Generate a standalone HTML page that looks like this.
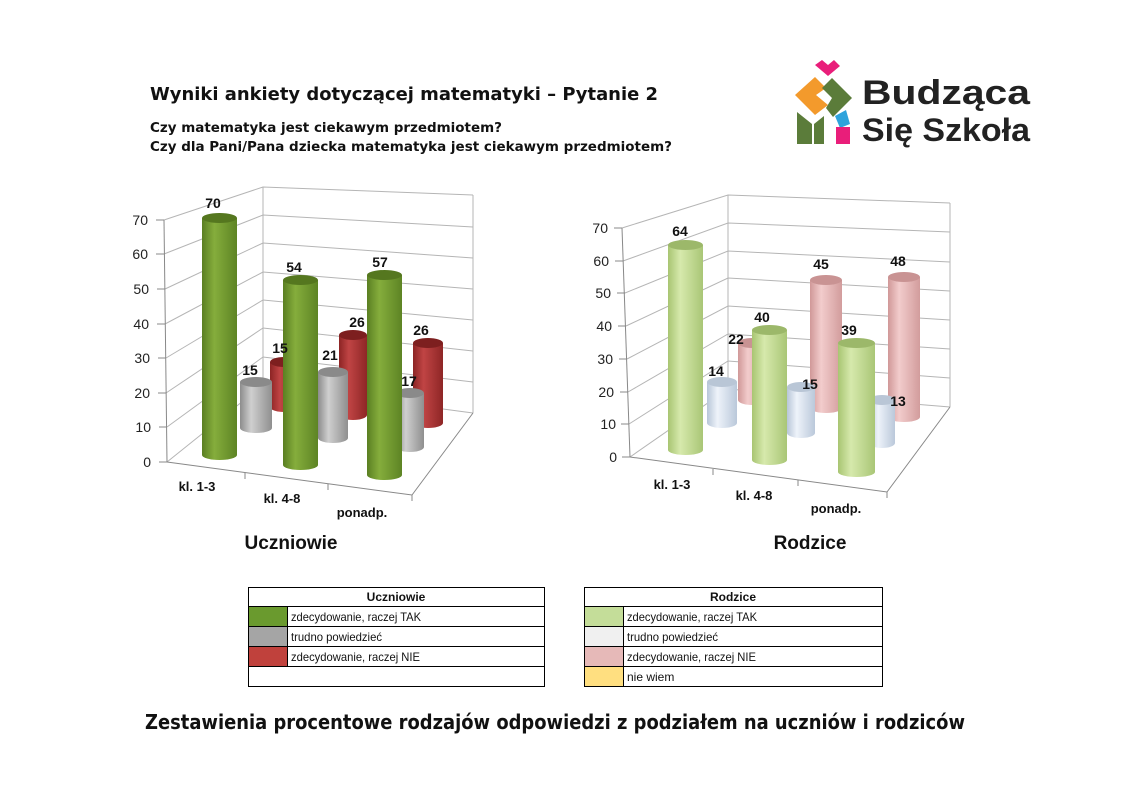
<!DOCTYPE html>
<html><head><meta charset="utf-8"><style>
body{margin:0;background:#fff;width:1140px;height:806px;overflow:hidden}
svg{display:block}
</style></head><body>
<svg width="1140" height="806" xmlns="http://www.w3.org/2000/svg" font-family="Liberation Sans, sans-serif">
<defs>
<linearGradient id="gG" x1="0" x2="1"><stop offset="0" stop-color="#5a7f22"/><stop offset="0.35" stop-color="#85ad3c"/><stop offset="1" stop-color="#5d8424"/></linearGradient>
<linearGradient id="gY" x1="0" x2="1"><stop offset="0" stop-color="#8c8c8c"/><stop offset="0.35" stop-color="#cfcfcf"/><stop offset="1" stop-color="#8f8f8f"/></linearGradient>
<linearGradient id="gR" x1="0" x2="1"><stop offset="0" stop-color="#8c2424"/><stop offset="0.35" stop-color="#c04444"/><stop offset="1" stop-color="#8e2626"/></linearGradient>
<linearGradient id="gL" x1="0" x2="1"><stop offset="0" stop-color="#a8c572"/><stop offset="0.35" stop-color="#d6e9ac"/><stop offset="1" stop-color="#a9c676"/></linearGradient>
<linearGradient id="gB" x1="0" x2="1"><stop offset="0" stop-color="#b8c6d8"/><stop offset="0.35" stop-color="#eef3fa"/><stop offset="1" stop-color="#bac8da"/></linearGradient>
<linearGradient id="gP" x1="0" x2="1"><stop offset="0" stop-color="#d09898"/><stop offset="0.35" stop-color="#f2cccc"/><stop offset="1" stop-color="#d29c9c"/></linearGradient>
</defs>

<!-- Header -->
<g font-family="DejaVu Sans, sans-serif" font-weight="bold" fill="#111">
<text x="150" y="100" font-size="18" textLength="508" lengthAdjust="spacingAndGlyphs">Wyniki ankiety dotyczącej matematyki – Pytanie 2</text>
<text x="150" y="132" font-size="13" textLength="352" lengthAdjust="spacingAndGlyphs">Czy matematyka jest ciekawym przedmiotem?</text>
<text x="150" y="151" font-size="13" textLength="522" lengthAdjust="spacingAndGlyphs">Czy dla Pani/Pana dziecka matematyka jest ciekawym przedmiotem?</text>
</g>

<!-- Logo -->
<polygon points="815,65 822,60 828,65 834,60 840,66 828,76" fill="#e91e7a"/>
<polygon points="795,95 815,77 826,88 816,95 828,105 815,115" fill="#f39a2c"/>
<polygon points="832,78 852,98 833,117 826,108 832,98 822,88" fill="#5b7c3a"/>
<polygon points="797,112 812,124 812,144 797,144" fill="#5b7c3a"/>
<polygon points="814,124 824,116 824,144 814,144" fill="#5b7c3a"/>
<polygon points="835,116 846,110 850,124 840,128" fill="#2ea3dc"/>
<rect x="836" y="127" width="14" height="17" fill="#e91e7a"/>
<text x="862" y="104" font-size="34" font-weight="bold" fill="#222" textLength="168" lengthAdjust="spacingAndGlyphs">Budząca</text>
<text x="862" y="141" font-size="32" font-weight="bold" fill="#222" textLength="168" lengthAdjust="spacingAndGlyphs">Się Szkoła</text>

<!-- LEFT CHART grid -->
<g stroke="#b5b5b5" stroke-width="1" fill="none">
<polyline points="167,462 263,385 473,413"/>
<polyline points="167,427 263,357 473,382"/>
<polyline points="166,393 263,328 473,351"/>
<polyline points="166,358 263,300 473,320"/>
<polyline points="165,324 263,272 473,289"/>
<polyline points="165,289 263,243 473,258"/>
<polyline points="164,254 263,215 473,227"/>
<polyline points="164,220 263,187 473,195"/>
<line x1="263" y1="187" x2="263" y2="385"/>
<line x1="473" y1="195" x2="473" y2="413"/>
</g>
<g stroke="#888" stroke-width="1" fill="none">
<line x1="164" y1="220" x2="167" y2="462"/>
<polyline points="167,462 412,495 473,413"/>
<line x1="159" y1="462" x2="167" y2="462"/><line x1="159" y1="427" x2="167" y2="427"/><line x1="158" y1="393" x2="166" y2="393"/><line x1="158" y1="358" x2="166" y2="358"/><line x1="157" y1="324" x2="165" y2="324"/><line x1="157" y1="289" x2="165" y2="289"/><line x1="156" y1="254" x2="164" y2="254"/><line x1="156" y1="220" x2="164" y2="220"/>
<line x1="245" y1="473" x2="245" y2="479"/><line x1="328" y1="484" x2="328" y2="490"/><line x1="412" y1="495" x2="412" y2="501"/>
</g>
<g font-size="14" fill="#222" text-anchor="end">
<text x="151" y="467">0</text><text x="151" y="432">10</text><text x="150" y="398">20</text><text x="150" y="363">30</text><text x="149" y="329">40</text><text x="149" y="294">50</text><text x="148" y="259">60</text><text x="148" y="225">70</text>
</g>
<g>
<rect x="270" y="362" width="28" height="45" fill="url(#gR)"/><ellipse cx="284" cy="407" rx="14" ry="5" fill="url(#gR)"/><ellipse cx="284" cy="362" rx="14" ry="5" fill="#7d1f1f"/>
<rect x="339" y="335" width="28" height="80" fill="url(#gR)"/><ellipse cx="353" cy="415" rx="14" ry="5" fill="url(#gR)"/><ellipse cx="353" cy="335" rx="14" ry="5" fill="#7d1f1f"/>
<rect x="413" y="343" width="30" height="80" fill="url(#gR)"/><ellipse cx="428" cy="423" rx="15" ry="5" fill="url(#gR)"/><ellipse cx="428" cy="343" rx="15" ry="5" fill="#7d1f1f"/>
<rect x="240" y="382" width="32" height="46" fill="url(#gY)"/><ellipse cx="256" cy="428" rx="16" ry="5" fill="url(#gY)"/><ellipse cx="256" cy="382" rx="16" ry="5" fill="#8a8a8a"/>
<rect x="318" y="372" width="30" height="66" fill="url(#gY)"/><ellipse cx="333" cy="438" rx="15" ry="5" fill="url(#gY)"/><ellipse cx="333" cy="372" rx="15" ry="5" fill="#8a8a8a"/>
<rect x="396" y="393" width="28" height="54" fill="url(#gY)"/><ellipse cx="410" cy="447" rx="14" ry="5" fill="url(#gY)"/><ellipse cx="410" cy="393" rx="14" ry="5" fill="#8a8a8a"/>
<rect x="202" y="218" width="35" height="237" fill="url(#gG)"/><ellipse cx="219.5" cy="455" rx="17.5" ry="5" fill="url(#gG)"/><ellipse cx="219.5" cy="218" rx="17.5" ry="5" fill="#55771f"/>
<rect x="283" y="280" width="35" height="185" fill="url(#gG)"/><ellipse cx="300.5" cy="465" rx="17.5" ry="5" fill="url(#gG)"/><ellipse cx="300.5" cy="280" rx="17.5" ry="5" fill="#55771f"/>
<rect x="367" y="275" width="35" height="200" fill="url(#gG)"/><ellipse cx="384.5" cy="475" rx="17.5" ry="5" fill="url(#gG)"/><ellipse cx="384.5" cy="275" rx="17.5" ry="5" fill="#55771f"/>
</g>
<g font-size="14" font-weight="bold" fill="#111" text-anchor="middle">
<text x="213" y="208">70</text><text x="294" y="272">54</text><text x="380" y="267">57</text>
<text x="250" y="375">15</text><text x="280" y="353">15</text><text x="330" y="360">21</text>
<text x="357" y="327">26</text><text x="421" y="335">26</text><text x="409" y="386">17</text>
<text x="197" y="491" font-size="13">kl. 1-3</text><text x="282" y="503" font-size="13">kl. 4-8</text><text x="362" y="517" font-size="13">ponadp.</text>
<text x="291" y="549" font-size="19">Uczniowie</text>
</g>

<!-- RIGHT CHART grid -->
<g stroke="#b5b5b5" stroke-width="1" fill="none">
<polyline points="630,457 728,389 950,407"/>
<polyline points="629,424 728,361 950,378"/>
<polyline points="628,392 728,334 950,349"/>
<polyline points="627,359 728,306 950,320"/>
<polyline points="626,326 728,278 950,291"/>
<polyline points="625,293 728,251 950,262"/>
<polyline points="623,261 728,223 950,232"/>
<polyline points="622,228 728,195 950,203"/>
<line x1="728" y1="195" x2="728" y2="389"/>
<line x1="950" y1="203" x2="950" y2="407"/>
</g>
<g stroke="#888" stroke-width="1" fill="none">
<line x1="622" y1="228" x2="630" y2="457"/>
<polyline points="630,457 887,492 950,407"/>
<line x1="622" y1="457" x2="630" y2="457"/><line x1="621" y1="424" x2="629" y2="424"/><line x1="620" y1="392" x2="628" y2="392"/><line x1="619" y1="359" x2="627" y2="359"/><line x1="618" y1="326" x2="626" y2="326"/><line x1="617" y1="293" x2="625" y2="293"/><line x1="615" y1="261" x2="623" y2="261"/><line x1="614" y1="228" x2="622" y2="228"/>
<line x1="713" y1="469" x2="713" y2="475"/><line x1="798" y1="480" x2="798" y2="486"/><line x1="887" y1="492" x2="887" y2="498"/>
</g>
<g font-size="14" fill="#222" text-anchor="end">
<text x="617" y="462">0</text><text x="616" y="429">10</text><text x="614" y="397">20</text><text x="613" y="364">30</text><text x="612" y="331">40</text><text x="611" y="298">50</text><text x="609" y="266">60</text><text x="608" y="233">70</text>
</g>
<g>
<rect x="738" y="343" width="28" height="57" fill="url(#gP)"/><ellipse cx="752" cy="400" rx="14" ry="5" fill="url(#gP)"/><ellipse cx="752" cy="343" rx="14" ry="5" fill="#c99393"/>
<rect x="810" y="280" width="32" height="128" fill="url(#gP)"/><ellipse cx="826" cy="408" rx="16" ry="5" fill="url(#gP)"/><ellipse cx="826" cy="280" rx="16" ry="5" fill="#c99393"/>
<rect x="888" y="277" width="32" height="140" fill="url(#gP)"/><ellipse cx="904" cy="417" rx="16" ry="5" fill="url(#gP)"/><ellipse cx="904" cy="277" rx="16" ry="5" fill="#c99393"/>
<rect x="707" y="382" width="30" height="41" fill="url(#gB)"/><ellipse cx="722" cy="423" rx="15" ry="5" fill="url(#gB)"/><ellipse cx="722" cy="382" rx="15" ry="5" fill="#b9c6d6"/>
<rect x="787" y="387" width="28" height="46" fill="url(#gB)"/><ellipse cx="801" cy="433" rx="14" ry="5" fill="url(#gB)"/><ellipse cx="801" cy="387" rx="14" ry="5" fill="#b9c6d6"/>
<rect x="869" y="400" width="26" height="43" fill="url(#gB)"/><ellipse cx="882" cy="443" rx="13" ry="5" fill="url(#gB)"/><ellipse cx="882" cy="400" rx="13" ry="5" fill="#b9c6d6"/>
<rect x="668" y="245" width="35" height="205" fill="url(#gL)"/><ellipse cx="685.5" cy="450" rx="17.5" ry="5" fill="url(#gL)"/><ellipse cx="685.5" cy="245" rx="17.5" ry="5" fill="#9cb86a"/>
<rect x="752" y="330" width="35" height="130" fill="url(#gL)"/><ellipse cx="769.5" cy="460" rx="17.5" ry="5" fill="url(#gL)"/><ellipse cx="769.5" cy="330" rx="17.5" ry="5" fill="#9cb86a"/>
<rect x="838" y="343" width="37" height="129" fill="url(#gL)"/><ellipse cx="856.5" cy="472" rx="18.5" ry="5" fill="url(#gL)"/><ellipse cx="856.5" cy="343" rx="18.5" ry="5" fill="#9cb86a"/>
</g>
<g font-size="14" font-weight="bold" fill="#111" text-anchor="middle">
<text x="680" y="236">64</text><text x="736" y="344">22</text><text x="716" y="376">14</text>
<text x="762" y="322">40</text><text x="810" y="389">15</text><text x="821" y="269">45</text>
<text x="849" y="335">39</text><text x="898" y="266">48</text><text x="898" y="406">13</text>
<text x="672" y="489" font-size="13">kl. 1-3</text><text x="754" y="500" font-size="13">kl. 4-8</text><text x="836" y="513" font-size="13">ponadp.</text>
<text x="810" y="549" font-size="19">Rodzice</text>
</g>

<!-- Legends -->
<g stroke="#000" stroke-width="1" fill="none">
<rect x="248.5" y="587.5" width="296" height="99"/>
<line x1="248" y1="606.5" x2="545" y2="606.5"/><line x1="248" y1="626.5" x2="545" y2="626.5"/><line x1="248" y1="646.5" x2="545" y2="646.5"/><line x1="248" y1="666.5" x2="545" y2="666.5"/>
<line x1="287.5" y1="606" x2="287.5" y2="666"/>
<rect x="584.5" y="587.5" width="298" height="99"/>
<line x1="584" y1="606.5" x2="883" y2="606.5"/><line x1="584" y1="626.5" x2="883" y2="626.5"/><line x1="584" y1="646.5" x2="883" y2="646.5"/><line x1="584" y1="666.5" x2="883" y2="666.5"/>
<line x1="623.5" y1="606" x2="623.5" y2="687"/>
</g>
<rect x="249" y="607" width="38" height="19" fill="#6a9a2e"/>
<rect x="249" y="627" width="38" height="19" fill="#a5a5a5"/>
<rect x="249" y="647" width="38" height="19" fill="#c0413c"/>
<rect x="585" y="607" width="38" height="19" fill="#c4dd99"/>
<rect x="585" y="627" width="38" height="19" fill="#f0f0f0"/>
<rect x="585" y="647" width="38" height="19" fill="#e6b9b8"/>
<rect x="585" y="667" width="38" height="19" fill="#ffdf80"/>
<g font-size="12" fill="#111">
<text x="396" y="601" text-anchor="middle" font-weight="bold">Uczniowie</text>
<text x="291" y="621" textLength="130" lengthAdjust="spacingAndGlyphs">zdecydowanie, raczej TAK</text>
<text x="291" y="641" textLength="91" lengthAdjust="spacingAndGlyphs">trudno powiedzieć</text>
<text x="291" y="661" textLength="129" lengthAdjust="spacingAndGlyphs">zdecydowanie, raczej NIE</text>
<text x="733" y="601" text-anchor="middle" font-weight="bold">Rodzice</text>
<text x="627" y="621" textLength="130" lengthAdjust="spacingAndGlyphs">zdecydowanie, raczej TAK</text>
<text x="627" y="641" textLength="91" lengthAdjust="spacingAndGlyphs">trudno powiedzieć</text>
<text x="627" y="661" textLength="129" lengthAdjust="spacingAndGlyphs">zdecydowanie, raczej NIE</text>
<text x="627" y="681">nie wiem</text>
</g>

<text x="145" y="729" font-size="20" font-weight="bold" fill="#111" font-family="DejaVu Sans, sans-serif" textLength="820" lengthAdjust="spacingAndGlyphs">Zestawienia procentowe rodzajów odpowiedzi z podziałem na uczniów i rodziców</text>
</svg>
</body></html>
